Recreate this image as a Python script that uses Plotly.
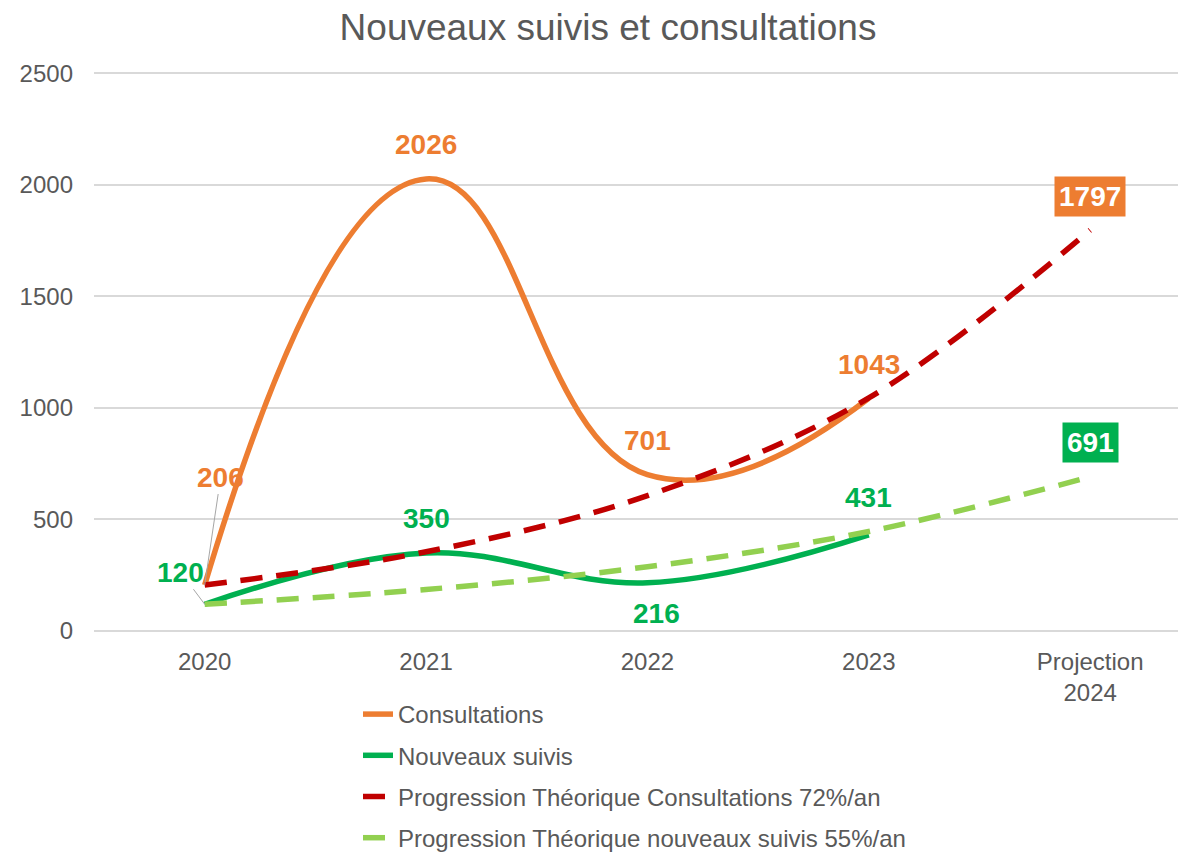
import plotly.graph_objects as go

categories = ["2020", "2021", "2022", "2023", "Projection<br>2024"]
consultations = [206, 2026, 701, 1043]
nouveaux_suivis = [120, 350, 216, 431]
prog_consultations = [206, 355, 607, 1045, 1797]
prog_suivis = [120, 186, 288, 446, 691]

ORANGE = "#ED7D31"
GREEN = "#00B050"
DARKRED = "#C00000"
LIGHTGREEN = "#92D050"
GREY = "#595959"
FONT = "Liberation Sans, Arial, sans-serif"

fig = go.Figure()
fig.add_trace(go.Scatter(x=categories[:4], y=consultations, mode="lines", name="Consultations",
                         line=dict(color=ORANGE, width=5.5, shape="spline", smoothing=1.3),
                         legendgroup="a"))
fig.add_trace(go.Scatter(x=categories[:4], y=nouveaux_suivis, mode="lines", name="Nouveaux suivis",
                         line=dict(color=GREEN, width=5.5, shape="spline", smoothing=1.1),
                         legendgroup="b"))
fig.add_trace(go.Scatter(x=categories, y=prog_consultations, mode="lines",
                         name="Progression Théorique Consultations 72%/an",
                         line=dict(color=DARKRED, width=5.5, dash="22px,14px", shape="spline", smoothing=1.0),
                         legendgroup="c"))
fig.add_trace(go.Scatter(x=categories, y=prog_suivis, mode="lines",
                         name="Progression Théorique nouveaux suivis 55%/an",
                         line=dict(color=LIGHTGREEN, width=5.5, dash="22px,14px", shape="spline", smoothing=1.0),
                         legendgroup="d"))


def lab_font(c):
    return dict(family=FONT, size=28, color=c)


ann = []
# Consultations labels (x given as category index)
ann.append(dict(x=0, y=consultations[0], text="<b>206</b>", showarrow=True, arrowhead=0,
                arrowwidth=1, arrowcolor="#A6A6A6", ax=16, ay=-108, font=lab_font(ORANGE)))
ann.append(dict(x=1, y=consultations[1], text="<b>2026</b>", showarrow=False, yshift=34, font=lab_font(ORANGE)))
ann.append(dict(x=2, y=consultations[2], text="<b>701</b>", showarrow=False, yshift=34, font=lab_font(ORANGE)))
ann.append(dict(x=3, y=consultations[3], text="<b>1043</b>", showarrow=False, yshift=34, font=lab_font(ORANGE)))
# Nouveaux suivis labels
ann.append(dict(x=0, y=nouveaux_suivis[0], text="<b>120</b>", showarrow=True, arrowhead=0,
                arrowwidth=1, arrowcolor="#A6A6A6", ax=-24, ay=-32, font=lab_font(GREEN)))
ann.append(dict(x=1, y=nouveaux_suivis[1], text="<b>350</b>", showarrow=False, yshift=34, font=lab_font(GREEN)))
ann.append(dict(x=2, y=nouveaux_suivis[2], text="<b>216</b>", showarrow=False, yshift=-31, xshift=9, font=lab_font(GREEN)))
ann.append(dict(x=3, y=nouveaux_suivis[3], text="<b>431</b>", showarrow=False, yshift=37, font=lab_font(GREEN)))
# Projection boxes
ann.append(dict(x=4, y=prog_consultations[4], text="<b>1797</b>", showarrow=False, yshift=34,
                bgcolor=ORANGE, borderpad=4, font=lab_font("white")))
ann.append(dict(x=4, y=prog_suivis[4], text="<b>691</b>", showarrow=False, yshift=34,
                bgcolor=GREEN, borderpad=4, font=lab_font("white")))
for a in ann:
    a["xref"] = "x"
    a["yref"] = "y"

# page body has an 8px margin, so the figure is drawn 8px smaller and shifted
fig.update_layout(
    width=1178, height=845,
    margin=dict(l=86, r=0, t=63, b=222, autoexpand=False),
    paper_bgcolor="white", plot_bgcolor="white",
    font=dict(family=FONT, color=GREY, size=24),
    title=dict(text="Nouveaux suivis et consultations", x=(608 - 8) / 1178, xref="container", xanchor="center",
               y=1 - 19 / 845, yref="container", yanchor="middle",
               font=dict(family=FONT, size=37, color=GREY)),
    xaxis=dict(type="category", range=[-0.5, 4.433], showgrid=False, showline=False, zeroline=False,
               ticks="", tickfont=dict(size=24, color=GREY), ticklabelstandoff=14),
    yaxis=dict(range=[0, 2510], tickvals=[0, 500, 1000, 1500, 2000, 2500], showgrid=True,
               gridcolor="#D9D9D9", gridwidth=1.5,
               zeroline=True, zerolinecolor="#D9D9D9", zerolinewidth=1.5, showline=False,
               ticks="", tickfont=dict(size=24, color=GREY), ticklabelstandoff=20),
    legend=dict(orientation="v", x=350 / 1178, xref="container", xanchor="left",
                y=1 - 684 / 845, yref="container", yanchor="top",
                traceorder="grouped", tracegroupgap=7, font=dict(size=24, color=GREY),
                bgcolor="rgba(0,0,0,0)"),
    annotations=ann,
)

fig.write_html("out.html")
